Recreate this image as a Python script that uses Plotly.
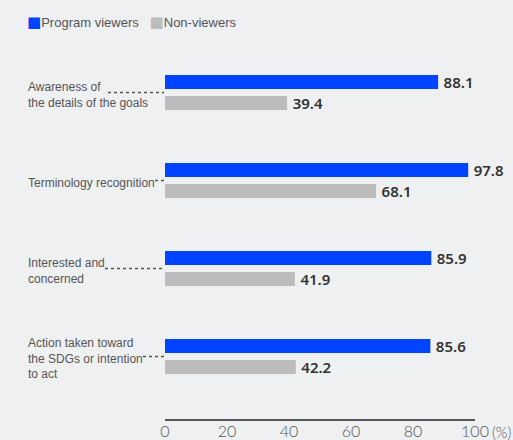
import plotly.graph_objects as go

categories = ["Awareness of<br>the details of the goals", "Terminology recognition",
              "Interested and<br>concerned", "Action taken toward<br>the SDGs or intention<br>to act"]
series_names = ["Program viewers", "Non-viewers"]
viewers = [88.1, 97.8, 85.9, 85.6]
non_viewers = [39.4, 68.1, 41.9, 42.2]
x_ticks = [0, 20, 40, 60, 80, 100]
leader_start_px = [108, 155, 105, 143]  # styling: where each dotted leader begins

BLUE = "#0044ff"
GRAY = "#bcbcbc"
BG = "#eff0f2"
TXT = "#555555"

W, H = 513, 440
L, R, T, B = 165, 38, 40, 21
PW = W - L - R

fig = go.Figure()
idx = list(range(len(categories)))
for name, vals, col in [(series_names[0], viewers, BLUE), (series_names[1], non_viewers, GRAY)]:
    fig.add_trace(go.Bar(
        y=idx, x=vals, orientation="h", name=name, marker=dict(color=col, line=dict(width=0)),
        texttemplate="\u2009%{x:.1f}", textposition="outside", cliponaxis=False,
        constraintext="none",
        textfont=dict(family="Noto Sans", size=15, color="#333333", weight=600),
        showlegend=False,
    ))

annotations = []
shapes = []
for i, c in enumerate(categories):
    annotations.append(dict(x=-(L - 26) / PW, xref="paper", y=i, yref="y", yshift=-2,
                            text=c, showarrow=False, xanchor="left", yanchor="middle", align="left",
                            font=dict(family="Liberation Sans", size=12, color=TXT)))
    shapes.append(dict(type="line", xref="paper", yref="y",
                       x0=-(L - leader_start_px[i]) / PW, x1=-1 / PW,
                       y0=i, y1=i, line=dict(color="#555555", width=1.3, dash="dot")))

# legend drawn as text
annotations.append(dict(x=-(L - 25) / PW, xref="paper", y=1, yref="paper", yshift=18,
                        xanchor="left", yanchor="middle", showarrow=False,
                        text=(f"<span style='color:{BLUE};font-size:15px;font-family:DejaVu Sans'>■</span>{series_names[0]}"
                              f"&nbsp;&nbsp;&nbsp;<span style='color:{GRAY};font-size:15px;font-family:DejaVu Sans'>■</span>{series_names[1]}"),
                        font=dict(family="Liberation Sans", size=13, color=TXT)))
# unit label
annotations.append(dict(x=1, xref="paper", y=0, yref="paper", xanchor="left", yanchor="top",
                        xshift=15, yshift=-2, showarrow=False, text="(%)",
                        font=dict(family="Lato", size=15, color=TXT, weight=300)))

fig.update_layout(
    width=W, height=H, margin=dict(l=L, r=R, t=T, b=B, autoexpand=False),
    paper_bgcolor=BG, plot_bgcolor=BG,
    barmode="group", bargap=0.523, bargroupgap=0.333,
    xaxis=dict(range=[0, 100], tickvals=x_ticks, showgrid=False, zeroline=False,
               showline=True, linecolor="#555555", linewidth=1.5, ticks="",
               automargin=False, ticklabelstandoff=-3,
               tickfont=dict(family="Lato", size=16, color=TXT, weight=300), fixedrange=True),
    yaxis=dict(range=[3 + 62.5 / 88, -52.5 / 88], showticklabels=False, showgrid=False,
               zeroline=False, showline=False, automargin=False),
    annotations=annotations, shapes=shapes, showlegend=False,
)
fig.write_html("out.html")
